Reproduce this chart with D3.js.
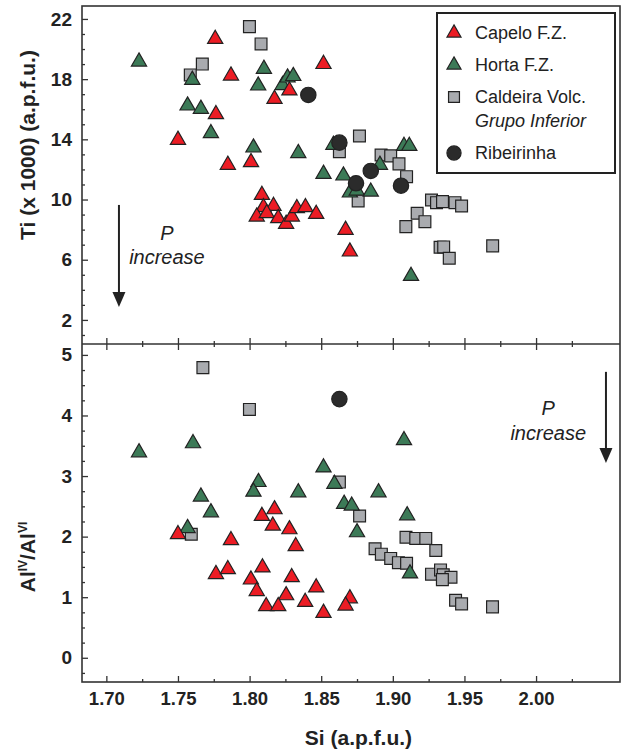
<!DOCTYPE html>
<html>
<head>
<meta charset="utf-8">
<script src="https://cdn.jsdelivr.net/npm/d3@7"></script>
<style>
body { margin: 0; background: #fff; }
text { font-family: "Liberation Sans", Arial, sans-serif; fill: #222; }
</style>
</head>
<body>
<div id="main"></div>
<script>
// Values: [Si, Ti x 1000] and [Si, AlIV/AlVI]
var capeloTi = [[1.776,20.67],[1.8516,19.0],[1.787,18.23],[1.8278,17.24],[1.8174,16.68],[1.7765,15.67],
	[1.750,13.96],[1.7848,12.3],[1.801,12.48],[1.8086,10.3],[1.8097,9.49],[1.8167,9.57],[1.805,8.86],
	[1.812,9.09],[1.820,8.76],[1.8255,8.38],[1.8295,8.86],[1.833,9.42],[1.839,9.49],[1.8465,9.04],
	[1.867,7.98],[1.870,6.54]];
var hortaTi = [[1.7228,19.16],[1.760,17.95],[1.810,18.68],[1.806,17.57],[1.823,17.6],[1.8265,18.1],
	[1.8305,18.2],[1.7567,16.24],[1.766,16.02],[1.773,14.4],[1.8027,13.45],[1.834,13.08],[1.8585,13.63],
	[1.9078,13.56],[1.9115,13.56],[1.891,12.3],[1.8516,11.7],[1.8655,11.59],[1.870,10.46],[1.8748,10.59],
	[1.8846,10.52],[1.9127,4.92]];
var caldeiraTi = [[1.7999,21.49],[1.808,20.34],[1.767,19.0],[1.7586,18.28],[1.8627,13.18],[1.8767,14.22],
	[1.8918,12.96],[1.8985,12.9],[1.9043,12.37],[1.9096,11.52],[1.8758,9.91],[1.927,9.97],[1.9305,9.79],
	[1.9347,9.86],[1.9434,9.79],[1.948,9.57],[1.917,9.09],[1.9224,8.53],[1.9091,8.2],[1.933,6.83],
	[1.9355,6.85],[1.9394,6.1],[1.9697,6.92]];
var ribeirinhaTi = [[1.841,16.95],[1.8627,13.78],[1.8846,11.9],[1.8743,11.08],[1.9057,10.92]];

var capeloAl = [[1.8174,2.45],[1.8086,2.34],[1.8162,2.18],[1.8278,2.12],[1.750,2.04],[1.787,1.94],
	[1.8322,1.84],[1.809,1.49],[1.7765,1.38],[1.7848,1.46],[1.8009,1.29],[1.8294,1.33],[1.805,1.10],
	[1.8255,1.03],[1.8465,1.16],[1.8388,0.92],[1.8116,0.85],[1.820,0.85],[1.8516,0.74],[1.870,0.98],
	[1.867,0.86]];
var hortaAl = [[1.7228,3.39],[1.7605,3.54],[1.8516,3.14],[1.8592,2.87],[1.8062,2.90],[1.8027,2.74],
	[1.834,2.73],[1.766,2.66],[1.866,2.54],[1.8713,2.51],[1.773,2.40],[1.875,2.07],[1.7567,2.14],
	[1.9078,3.59],[1.890,2.73],[1.910,2.35],[1.912,1.39]];
var caldeiraAl = [[1.7674,4.79],[1.7999,4.10],[1.8627,2.90],[1.7593,2.04],[1.8768,2.34],[1.9092,1.99],
	[1.916,1.97],[1.923,1.97],[1.930,1.77],[1.8876,1.80],[1.892,1.71],[1.8985,1.64],[1.9039,1.57],
	[1.9096,1.56],[1.927,1.38],[1.9333,1.45],[1.9352,1.37],[1.9406,1.33],[1.9346,1.29],[1.9438,0.95],
	[1.948,0.89],[1.9696,0.84]];
var ribeirinhaAl = [[1.8627,4.27]];

var siTicks = [1.70, 1.75, 1.80, 1.85, 1.90, 1.95, 2.00];
var tiTicks = [2, 6, 10, 14, 18, 22];
var alTicks = [0, 1, 2, 3, 4, 5];

var W = 625, H = 751;
// note: "top" is taken by window.top, so plot edges get a prefix
var plotLeft = 82, plotRight = 620, plotTop = 6, plotMid = 344, plotBottom = 682;

var svg = d3.select('#main').append('svg')
	.attr('width', W)
	.attr('height', H)
	.style('background', '#fff');

var x = d3.scaleLinear().domain([1.683, 2.0586]).range([plotLeft, plotRight]);
var yTi = d3.scaleLinear().domain([0.4, 22.86]).range([plotMid, plotTop]);
var yAl = d3.scaleLinear().domain([-0.4, 5.18]).range([plotBottom, plotMid]);

// minor ticks between the labelled ones
var siMinor = d3.range(1.725, 2.05, 0.05);
var tiMinor = d3.range(1, 23, 1).filter(function(v){ return tiTicks.indexOf(v) < 0; });
var alMinor = d3.range(-0.25, 5.01, 0.25).filter(function(v){ return Math.abs(v - Math.round(v)) > 0.01; });

function styleAxis(g, size){
	g.select('.domain').remove();
	g.selectAll('line').attr('stroke', '#333').attr('stroke-width', 1.3);
	g.selectAll('text').style('font-size', size + 'px').style('font-weight', 'bold')
		.style('font-family', '"Liberation Sans", Arial, sans-serif').attr('fill', '#222');
}

function leftAxis(scale, majors, minors){
	var g = svg.append('g').attr('transform', 'translate(' + plotLeft + ',0)')
		.call(d3.axisLeft(scale).tickValues(majors).tickSizeInner(-6).tickSizeOuter(0)
			.tickPadding(10).tickFormat(d3.format('d')));
	styleAxis(g, 19);
	var m = svg.append('g').attr('transform', 'translate(' + plotLeft + ',0)')
		.call(d3.axisLeft(scale).tickValues(minors).tickSizeInner(-3).tickSizeOuter(0).tickFormat(''));
	styleAxis(m, 10);
}

leftAxis(yTi, tiTicks, tiMinor);
leftAxis(yAl, alTicks, alMinor);

// bottom axis with labels
var gx = svg.append('g').attr('transform', 'translate(0,' + plotBottom + ')')
	.call(d3.axisBottom(x).tickValues(siTicks).tickSizeInner(-6).tickSizeOuter(0)
		.tickPadding(10).tickFormat(d3.format('.2f')));
styleAxis(gx, 18.5);
var gxm = svg.append('g').attr('transform', 'translate(0,' + plotBottom + ')')
	.call(d3.axisBottom(x).tickValues(siMinor).tickSizeInner(-3).tickSizeOuter(0).tickFormat(''));
styleAxis(gxm, 10);

// ticks on the panel divider go both ways
[6, -6].forEach(function(s){
	var g = svg.append('g').attr('transform', 'translate(0,' + plotMid + ')')
		.call(d3.axisBottom(x).tickValues(siTicks).tickSizeInner(s).tickSizeOuter(0).tickFormat(''));
	styleAxis(g, 10);
	var gm = svg.append('g').attr('transform', 'translate(0,' + plotMid + ')')
		.call(d3.axisBottom(x).tickValues(siMinor).tickSizeInner(s / 2).tickSizeOuter(0).tickFormat(''));
	styleAxis(gm, 10);
});

// frame
svg.append('rect')
	.attr('x', plotLeft).attr('y', plotTop)
	.attr('width', plotRight - plotLeft).attr('height', plotBottom - plotTop)
	.attr('fill', 'none').attr('stroke', '#333').attr('stroke-width', 1.6);
svg.append('line')
	.attr('x1', plotLeft).attr('x2', plotRight).attr('y1', plotMid).attr('y2', plotMid)
	.attr('stroke', '#333').attr('stroke-width', 1.6);

// axis titles
svg.append('text')
	.attr('transform', 'translate(35,' + 145 + ') rotate(-90)')
	.attr('text-anchor', 'middle')
	.style('font-size', '21px').style('font-weight', 'bold')
	.text('Ti (x 1000) (a.p.f.u.)');

var alLabel = svg.append('text')
	.attr('transform', 'translate(35,' + 557 + ') rotate(-90)')
	.attr('text-anchor', 'middle')
	.style('font-size', '21px').style('font-weight', 'bold');
alLabel.append('tspan').text('Al');
alLabel.append('tspan').text('IV').style('font-size', '12px').attr('dy', -8);
alLabel.append('tspan').text('/Al').attr('dy', 8);
alLabel.append('tspan').text('VI').style('font-size', '12px').attr('dy', -8);

svg.append('text')
	.attr('x', x(1.876)).attr('y', 745)
	.attr('text-anchor', 'middle')
	.style('font-size', '21px').style('font-weight', 'bold')
	.text('Si (a.p.f.u.)');

// marker styles per group
var groups = [
	{name: 'caldeira', fill: '#a9abaf', shape: d3.symbolSquare, size: 140, ti: caldeiraTi, al: caldeiraAl},
	{name: 'horta', fill: '#3c7a57', shape: d3.symbolTriangle, size: 100, ti: hortaTi, al: hortaAl},
	{name: 'capelo', fill: '#ec1c24', shape: d3.symbolTriangle, size: 100, ti: capeloTi, al: capeloAl},
	{name: 'ribeirinha', fill: '#2b2b2b', shape: d3.symbolCircle, size: 185, ti: ribeirinhaTi, al: ribeirinhaAl}
];

function drawPoints(data, yScale, grp){
	svg.append('g').attr('class', grp.name)
		.selectAll('path')
		.data(data)
		.enter()
		.append('path')
		.attr('d', d3.symbol().type(grp.shape).size(grp.size))
		.attr('transform', function(d){
			return 'translate(' + x(d[0]) + ',' + yScale(d[1]) + ')';
		})
		.attr('fill', grp.fill)
		.attr('stroke', '#222')
		.attr('stroke-width', 1.2);
}

groups.forEach(function(grp){
	drawPoints(grp.ti, yTi, grp);
	drawPoints(grp.al, yAl, grp);
});

// "P increase" arrows
function pressureArrow(ax, y1, y2, tx, yScale, tP, tInc){
	svg.append('line')
		.attr('x1', x(ax)).attr('x2', x(ax))
		.attr('y1', yScale(y1)).attr('y2', yScale(y2) - 10)
		.attr('stroke', '#222').attr('stroke-width', 2);
	var tip = yScale(y2);
	svg.append('path')
		.attr('d', 'M' + (x(ax) - 6.5) + ',' + (tip - 15) + 'L' + (x(ax) + 6.5) + ',' + (tip - 15) + 'L' + x(ax) + ',' + tip + 'Z')
		.attr('fill', '#222');
	svg.append('text')
		.attr('x', x(tx)).attr('y', yScale(tP))
		.attr('text-anchor', 'middle')
		.style('font-size', '20px').style('font-style', 'italic')
		.text('P');
	svg.append('text')
		.attr('x', x(tx)).attr('y', yScale(tInc))
		.attr('text-anchor', 'middle')
		.style('font-size', '20px').style('font-style', 'italic')
		.text('increase');
}
pressureArrow(1.7088, 9.64, 2.86, 1.7423, yTi, 7.3, 5.72);
pressureArrow(2.0488, 4.72, 3.215, 2.0085, yAl, 4.008, 3.595);

// legend
var legend = svg.append('g').attr('transform', 'translate(437,13)');
legend.append('rect')
	.attr('width', 178).attr('height', 160)
	.attr('fill', '#fff').attr('stroke', '#222').attr('stroke-width', 2);

var legendRows = [
	{label: 'Capelo F.Z.', grp: groups[2], y: 20},
	{label: 'Horta F.Z.', grp: groups[1], y: 52},
	{label: 'Caldeira Volc.', grp: groups[0], y: 84, sub: 'Grupo Inferior'},
	{label: 'Ribeirinha', grp: groups[3], y: 140}
];
legendRows.forEach(function(r){
	legend.append('path')
		.attr('d', d3.symbol().type(r.grp.shape).size(r.grp.size * 0.85))
		.attr('transform', 'translate(17,' + r.y + ')')
		.attr('fill', r.grp.fill).attr('stroke', '#222').attr('stroke-width', 1.2);
	legend.append('text')
		.attr('x', 38).attr('y', r.y + 6)
		.style('font-size', '18px')
		.text(r.label);
	if(r.sub){
		legend.append('text')
			.attr('x', 38).attr('y', r.y + 30)
			.style('font-size', '18px').style('font-style', 'italic')
			.text(r.sub);
	}
});
</script>
</body>
</html>
